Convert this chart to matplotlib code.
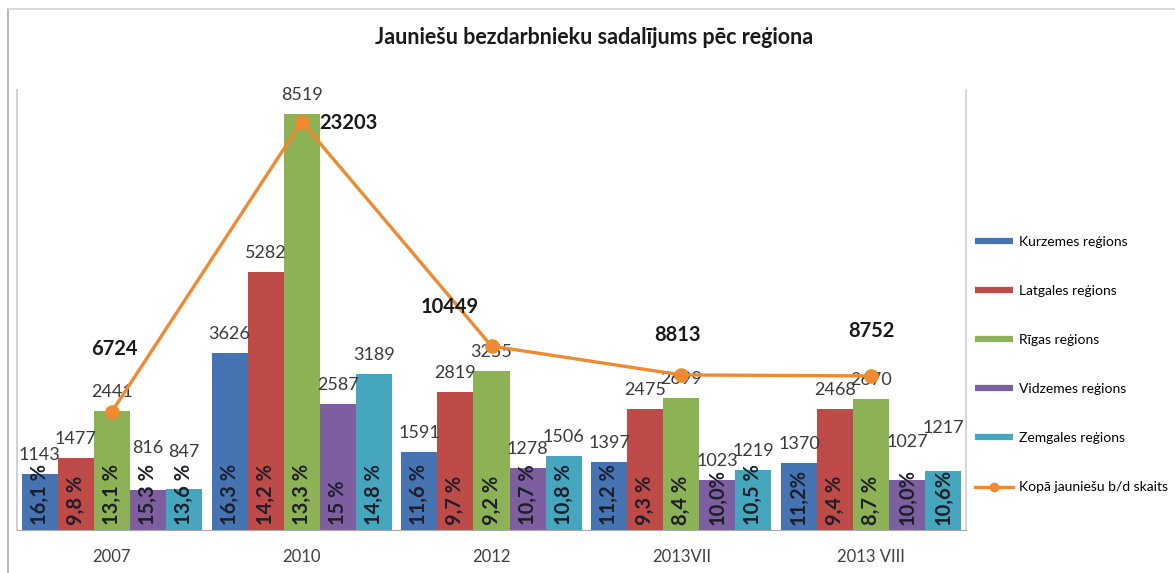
import numpy as np
import matplotlib
matplotlib.use("Agg")
import matplotlib.pyplot as plt
from matplotlib.lines import Line2D

plt.rcParams['font.family'] = ['Lato', 'DejaVu Sans']

# ---------------- data ----------------
categories = ["2007", "2010", "2012", "2013VII", "2013 VIII"]
series_names = ["Kurzemes reģions", "Latgales reģions", "Rīgas reģions",
                "Vidzemes reģions", "Zemgales reģions"]
kurzeme = [1143, 3626, 1591, 1397, 1370]
latgale = [1477, 5282, 2819, 2475, 2468]
riga = [2441, 8519, 3255, 2699, 2670]
vidzeme = [816, 2587, 1278, 1023, 1027]
zemgale = [847, 3189, 1506, 1219, 1217]
total = [6724, 23203, 10449, 8813, 8752]
total_name = "Kopā jauniešu b/d skaits"

pct_kurzeme = ["16,1 %", "16,3 %", "11,6 %", "11,2 %", "11,2%"]
pct_latgale = ["9,8 %", "14,2 %", "9,7 %", "9,3 %", "9,4 %"]
pct_riga = ["13,1 %", "13,3 %", "9,2 %", "8,4 %", "8,7 %"]
pct_vidzeme = ["15,3 %", "15 %", "10,7 %", "10,0%", "10,0%"]
pct_zemgale = ["13,6 %", "14,8 %", "10,8 %", "10,5 %", "10,6%"]

title = "Jauniešu bezdarbnieku sadalījums pēc reģiona"

# ---------------- style ----------------
colors = ['#4673B2', '#BE4B48', '#8DB255', '#7D5F9F', '#46A6BD']
line_color = '#F08A32'
# vertical pixel offsets of value labels above bars (per series, per category)
label_dy = [[19, 19, 19, 19, 19],
            [19, 19, 19, 19, 19],
            [19, 19, 19, 19, 19],
            [42, 19, 19, 19, 38],
            [37, 19, 19, 19, 43]]
# pixel offsets of total labels from markers
total_off = [(2, 63), (47, -1), (-42, 39), (-4, 40), (0, 45)]

series = [kurzeme, latgale, riga, vidzeme, zemgale]
pcts = [pct_kurzeme, pct_latgale, pct_riga, pct_vidzeme, pct_zemgale]

W, H = 1175, 573
fig = plt.figure(figsize=(W / 100, H / 100), dpi=100)
fig.patch.set_facecolor('white')

ax = fig.add_axes([17 / W, 1 - 530 / H, (966 - 17) / W, (530 - 90) / H])
x = np.arange(len(categories))
bw = 0.19
for i, (vals, col, pl) in enumerate(zip(series, colors, pcts)):
    xs = x + (i - 2) * bw
    ax.bar(xs, vals, width=bw, color=col, edgecolor='none', zorder=2,
           label=series_names[i])
    for j, (xx, v) in enumerate(zip(xs, vals)):
        ax.annotate(str(v), (xx, v), xytext=(0, label_dy[i][j]),
                    textcoords='offset pixels', ha='center', va='center',
                    fontsize=13, color='#3A3A3A', zorder=5)
        ax.annotate(pl[j], (xx, 0), xytext=(0, 5), textcoords='offset pixels',
                    ha='center', va='bottom', rotation=90, fontsize=14.5,
                    fontweight='bold', color='#1E1E2A', zorder=5)

ax.set_xlim(-0.5, len(categories) - 0.5)
ax.set_ylim(0, 9000)
ax.set_yticks([])
ax.set_xticks(x)
ax.set_xticklabels(categories, fontsize=12, color='#404040')
ax.tick_params(axis='x', length=0, pad=14)
ax.spines['top'].set_visible(False)
ax.spines['left'].set_color('#C8C8C8')
ax.spines['right'].set_color('#D0D0D0')
ax.spines['bottom'].set_color('#A8A8A8')
ax.spines['left'].set_linewidth(1.2)
ax.spines['right'].set_linewidth(1.2)

ax2 = ax.twinx()
ax2.set_ylim(0, 25000)
ax2.set_yticks([])
for s in ['top', 'left', 'right', 'bottom']:
    ax2.spines[s].set_visible(False)
ax2.plot(x, total, color=line_color, lw=2.4, marker='o', markersize=9.5,
         zorder=4)
for j, v in enumerate(total):
    dx, dy = total_off[j]
    ax2.annotate(str(v), (x[j], v), xytext=(dx, dy), textcoords='offset pixels',
                 ha='center', va='center', fontsize=14.5, fontweight='bold',
                 color='#1A1A1A', zorder=6)

fig.text(594 / W, 1 - 38 / H, title, ha='center', va='center', fontsize=15.5,
         fontweight='bold', color='#1A1A1A')

handles = [Line2D([], [], color=c, lw=4.5, solid_capstyle='butt') for c in colors]
handles.append(Line2D([], [], color=line_color, lw=2.4, marker='o', markersize=6))
labels = series_names + [total_name]
fig.legend(handles, labels, loc='upper left', bbox_to_anchor=(975 / W, 1 - 236 / H),
           frameon=False, fontsize=10, handlelength=2.7, labelspacing=2.67,
           handletextpad=0.5, borderpad=0, borderaxespad=0)

# outer chart border
fig.add_artist(Line2D([8 / W, 8 / W], [0, 1 - 9 / H], transform=fig.transFigure,
                      color='#A8A8A8', lw=1.2))
fig.add_artist(Line2D([8 / W, 1], [1 - 9 / H, 1 - 9 / H], transform=fig.transFigure,
                      color='#D4D4D4', lw=1.2))

fig.savefig('out.png', dpi=100)
